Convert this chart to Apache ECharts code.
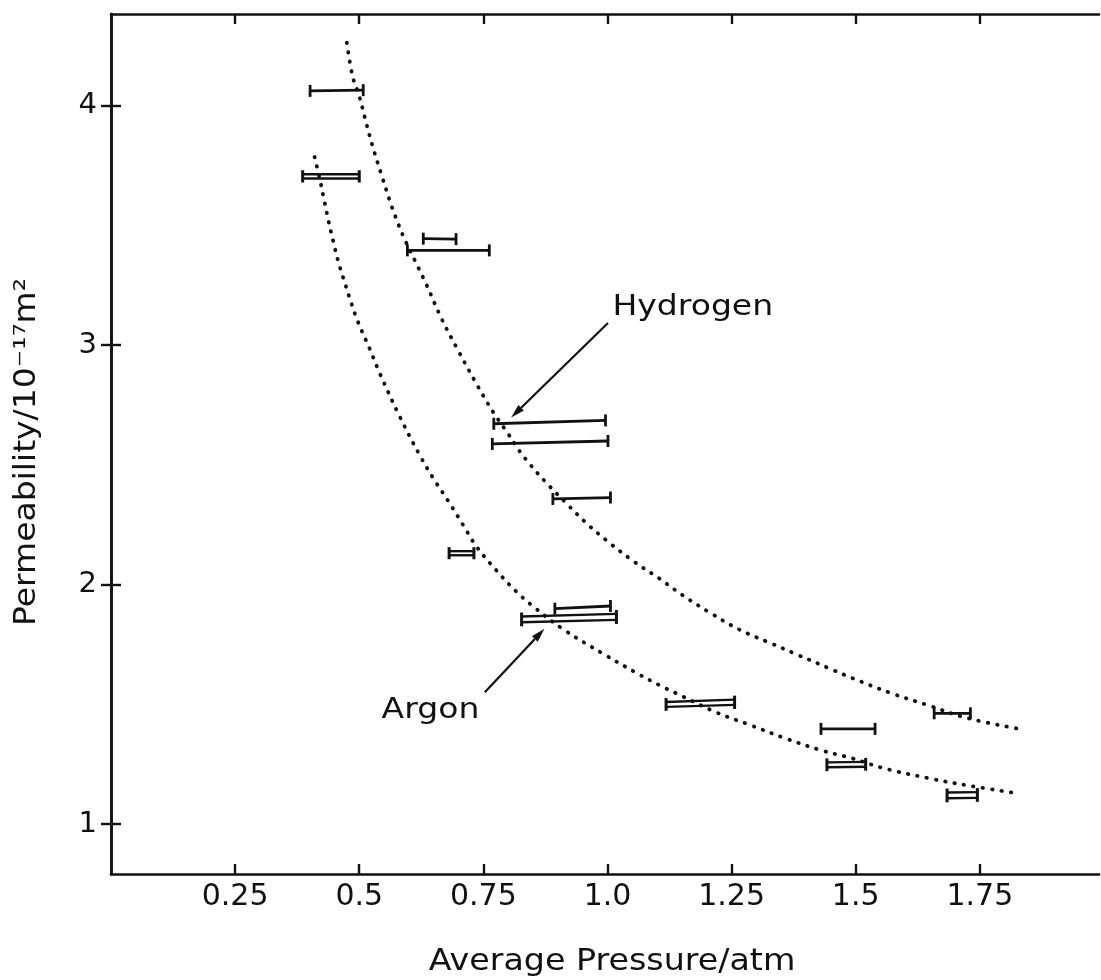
<!DOCTYPE html>
<html>
<head>
<meta charset="utf-8">
<script src="https://cdn.jsdelivr.net/npm/echarts@6/dist/echarts.min.js"></script>
<style>
html,body{margin:0;padding:0;background:#fff;}
#chart{width:1101px;height:980px;}
</style>
</head>
<body>
<div id="chart"></div>
<script>
// ---- tick values / labels ----
const xTickValues = [0.25, 0.5, 0.75, 1.0, 1.25, 1.5, 1.75];
const xTickLabels = ['0.25', '0.5', '0.75', '1.0', '1.25', '1.5', '1.75'];
const yTickValues = [1, 2, 3, 4];
const yTickLabels = ['1', '2', '3', '4'];

// ---- fitted curves (pressure, permeability) ----
const hydrogenCurve = [
  [0.475,4.263],[0.487,4.120],[0.500,4.040],[0.515,3.920],[0.527,3.830],[0.545,3.710],
  [0.562,3.600],[0.577,3.515],[0.592,3.440],[0.614,3.345],[0.636,3.250],[0.666,3.110],
  [0.700,2.975],[0.733,2.850],[0.770,2.720],[0.800,2.630],[0.817,2.575],[0.843,2.505],
  [0.877,2.425],[0.917,2.340],[0.957,2.258],[0.998,2.185],[1.051,2.100],[1.105,2.025],
  [1.152,1.955],[1.205,1.885],[1.266,1.812],[1.326,1.758],[1.380,1.710],[1.453,1.645],
  [1.493,1.610],[1.574,1.545],[1.648,1.495],[1.721,1.445],[1.829,1.398]
];
const argonCurve = [
  [0.410,3.786],[0.421,3.690],[0.428,3.620],[0.438,3.520],[0.448,3.430],[0.459,3.340],
  [0.471,3.260],[0.481,3.195],[0.496,3.105],[0.520,2.990],[0.542,2.880],[0.582,2.700],
  [0.622,2.540],[0.649,2.445],[0.679,2.350],[0.709,2.250],[0.736,2.160],[0.776,2.060],
  [0.817,1.970],[0.853,1.905],[0.910,1.815],[0.991,1.712],[1.058,1.632],[1.105,1.580],
  [1.152,1.533],[1.219,1.467],[1.286,1.415],[1.359,1.358],[1.433,1.307],[1.493,1.275],
  [1.554,1.235],[1.654,1.189],[1.728,1.161],[1.825,1.129]
];

// ---- single-line pressure-range bars: [pLow, pHigh, kAtLow, kAtHigh] ----
const singleBars = [
  [0.401, 0.508, 4.062, 4.065],
  [0.629, 0.695, 3.445, 3.443],
  [0.597, 0.762, 3.396, 3.396],
  [0.771, 0.996, 2.672, 2.686],
  [0.768, 1.001, 2.588, 2.600],
  [0.890, 1.006, 2.358, 2.364],
  [0.894, 1.006, 1.900, 1.911],
  [1.430, 1.539, 1.398, 1.398],
  [1.658, 1.731, 1.463, 1.463]
];
// ---- double-line bars: [pLow, pHigh, upperAtLow, upperAtHigh, lowerAtLow, lowerAtHigh] ----
const doubleBars = [
  [0.386, 0.500, 3.714, 3.714, 3.696, 3.696],
  [0.681, 0.731, 2.140, 2.140, 2.123, 2.123],
  [0.827, 1.018, 1.867, 1.878, 1.843, 1.853],
  [1.118, 1.256, 1.510, 1.520, 1.490, 1.498],
  [1.442, 1.520, 1.258, 1.260, 1.238, 1.240],
  [1.684, 1.745, 1.132, 1.134, 1.108, 1.110]
];

// ---- annotations ----
const annotationTexts = ['Hydrogen', 'Argon'];
const annotationPos = [[1.010, 3.158], [0.545, 1.474]];
const arrows = [
  [1.001, 3.093, 0.806, 2.698],
  [0.753, 1.551, 0.873, 1.816]
];

const INK = '#111';
const FONT = '"DejaVu Sans", "Liberation Sans", sans-serif';

function renderSingle(params, api) {
  const a = api.coord([api.value(0), api.value(2)]);
  const b = api.coord([api.value(1), api.value(3)]);
  const c = 6;
  const st = { stroke: INK, lineWidth: 2.8 };
  return { type: 'group', children: [
    { type: 'line', shape: { x1: a[0], y1: a[1], x2: b[0], y2: b[1] }, style: st },
    { type: 'line', shape: { x1: a[0], y1: a[1] - c, x2: a[0], y2: a[1] + c }, style: st },
    { type: 'line', shape: { x1: b[0], y1: b[1] - c, x2: b[0], y2: b[1] + c }, style: st }
  ]};
}
function renderDouble(params, api) {
  const ua = api.coord([api.value(0), api.value(2)]);
  const ub = api.coord([api.value(1), api.value(3)]);
  const la = api.coord([api.value(0), api.value(4)]);
  const lb = api.coord([api.value(1), api.value(5)]);
  const c = 4;
  const st = { stroke: INK, lineWidth: 2.4 };
  return { type: 'group', children: [
    { type: 'line', shape: { x1: ua[0], y1: ua[1], x2: ub[0], y2: ub[1] }, style: st },
    { type: 'line', shape: { x1: la[0], y1: la[1], x2: lb[0], y2: lb[1] }, style: st },
    { type: 'line', shape: { x1: ua[0], y1: ua[1] - c, x2: la[0], y2: la[1] + c }, style: { stroke: INK, lineWidth: 3 } },
    { type: 'line', shape: { x1: ub[0], y1: ub[1] - c, x2: lb[0], y2: lb[1] + c }, style: { stroke: INK, lineWidth: 3 } }
  ]};
}
function renderArrow(params, api) {
  const t = api.coord([api.value(0), api.value(1)]);
  const h = api.coord([api.value(2), api.value(3)]);
  const dx = h[0] - t[0], dy = h[1] - t[1];
  const len = Math.sqrt(dx * dx + dy * dy);
  const ux = dx / len, uy = dy / len;
  const L = 14, W = 4;
  const bx = h[0] - ux * L, by = h[1] - uy * L;
  return { type: 'group', children: [
    { type: 'line', shape: { x1: t[0], y1: t[1], x2: bx, y2: by }, style: { stroke: INK, lineWidth: 2.2 } },
    { type: 'polygon', shape: { points: [[h[0], h[1]], [bx - uy * W, by + ux * W], [bx + uy * W, by - ux * W]] }, style: { fill: INK } }
  ]};
}
function renderText(params, api) {
  const p = api.coord([api.value(0), api.value(1)]);
  return {
    type: 'text', x: p[0], y: p[1], scaleX: 1.18,
    style: { text: annotationTexts[params.dataIndex], font: '28px ' + FONT, fill: INK, align: 'left', verticalAlign: 'middle' }
  };
}

const dotted = { color: INK, width: 3.8, type: [0.5, 9], cap: 'round' };

const axisCommon = {
  type: 'value', min: 0, max: 1.99,
  axisLine: { show: true, lineStyle: { color: INK, width: 2.6 } },
  splitLine: { show: false }
};

const chart = echarts.init(document.getElementById('chart'), null, { renderer: 'canvas' });
chart.setOption({
  backgroundColor: '#fff',
  animation: false,
  grid: { left: 111, right: 2, top: 14, bottom: 106, containLabel: false, outerBoundsMode: 'none' },
  xAxis: [
    Object.assign({}, axisCommon, {
      position: 'bottom',
      axisTick: { show: true, inside: true, length: 10, customValues: xTickValues, lineStyle: { color: INK, width: 2.4 } },
      axisLabel: { show: true, customValues: xTickValues, margin: 8, color: INK, fontSize: 30, fontFamily: FONT,
        formatter: v => { const i = xTickValues.findIndex(t => Math.abs(t - v) < 1e-6); return i >= 0 ? xTickLabels[i] : ''; } }
    }),
    Object.assign({}, axisCommon, {
      position: 'top',
      axisTick: { show: true, inside: true, length: 10, customValues: xTickValues, lineStyle: { color: INK, width: 2.4 } },
      axisLabel: { show: false }
    })
  ],
  yAxis: [
    { type: 'value', min: 0.792, max: 4.383, position: 'left',
      axisLine: { show: true, lineStyle: { color: INK, width: 2.6 } },
      splitLine: { show: false },
      axisTick: { show: true, inside: true, length: 10, customValues: yTickValues, lineStyle: { color: INK, width: 2.4 } },
      axisLabel: { show: true, customValues: yTickValues, margin: 14, color: INK, fontSize: 29, fontFamily: FONT,
        formatter: v => { const i = yTickValues.findIndex(t => Math.abs(t - v) < 1e-6); return i >= 0 ? yTickLabels[i] : ''; } }
    },
    { type: 'value', min: 0.792, max: 4.383, position: 'right',
      axisLine: { show: true, lineStyle: { color: INK, width: 2.6 } },
      splitLine: { show: false },
      axisTick: { show: true, inside: true, length: 10, customValues: yTickValues, lineStyle: { color: INK, width: 2.4 } },
      axisLabel: { show: false }
    }
  ],
  graphic: [
    { type: 'text', x: 612, y: 962, scaleX: 1.11,
      style: { text: 'Average Pressure/atm', font: '30px ' + FONT, fill: INK, align: 'center', verticalAlign: 'middle' } },
    { type: 'text', x: 27, y: 452, rotation: Math.PI / 2, scaleX: 1.1,
      style: { text: 'Permeability/10⁻¹⁷m²', font: '30px ' + FONT, fill: INK, align: 'center', verticalAlign: 'middle' } }
  ],
  series: [
    { type: 'line', name: 'Hydrogen fit', data: hydrogenCurve, smooth: 0.4, showSymbol: false, lineStyle: dotted, z: 2 },
    { type: 'line', name: 'Argon fit', data: argonCurve, smooth: 0.4, showSymbol: false, lineStyle: dotted, z: 2 },
    { type: 'custom', name: 'single bars', data: singleBars, renderItem: renderSingle, z: 3 },
    { type: 'custom', name: 'double bars', data: doubleBars, renderItem: renderDouble, z: 3 },
    { type: 'custom', name: 'arrows', data: arrows, renderItem: renderArrow, z: 4 },
    { type: 'custom', name: 'labels', data: annotationPos, renderItem: renderText, z: 4 }
  ]
});
</script>
</body>
</html>
